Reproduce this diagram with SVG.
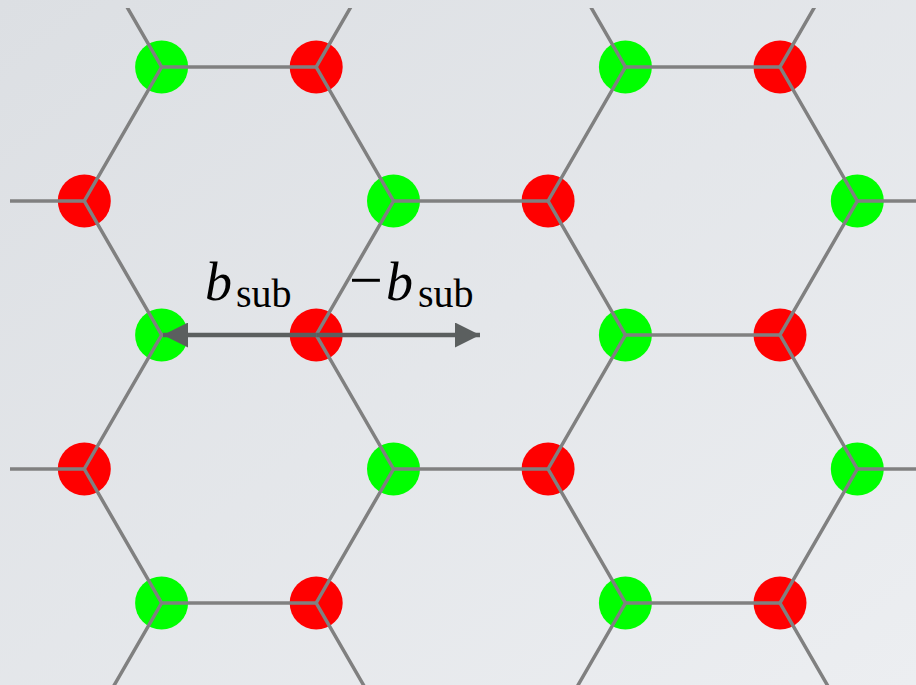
<svg xmlns="http://www.w3.org/2000/svg" width="916" height="685" viewBox="0 0 916 685">
<defs>
<linearGradient id="bg" x1="0" y1="0" x2="1" y2="1">
<stop offset="0" stop-color="#dcdfe3"/>
<stop offset="1" stop-color="#eceef1"/>
</linearGradient>
<clipPath id="clip"><rect x="10" y="8" width="906" height="677"/></clipPath>
<marker id="ah" viewBox="0 0 25 25" refX="25" refY="12.5" markerWidth="25" markerHeight="25" markerUnits="userSpaceOnUse" orient="auto">
<path d="M0,0 L25,12.5 L0,25 Z" fill="#5b5f5f"/>
</marker>
</defs>
<style>
.g{fill:#00ff00}
.r{fill:#ff0000}
.bond{stroke:#808080;stroke-width:3.5;fill:none;stroke-linejoin:miter}
.arr{stroke:#5b5f5f;stroke-width:4.5;fill:none}
.t{font-family:"Liberation Serif","DejaVu Serif",serif;fill:#000}
.it{font-style:italic;font-size:54px}
.sb{font-size:40px}
</style>
<rect width="916" height="685" fill="url(#bg)"/>
<g id="sites">
<g id="g-0-0"><circle class="g" cx="161.6" cy="67" r="26.5"/></g>
<g id="r-0-0"><circle class="r" cx="316.2" cy="67" r="26.5"/></g>
<g id="g-0-1"><circle class="g" cx="625.4" cy="67" r="26.5"/></g>
<g id="r-0-1"><circle class="r" cx="780" cy="67" r="26.5"/></g>
<g id="r-1-0"><circle class="r" cx="84.3" cy="201" r="26.5"/></g>
<g id="g-1-0"><circle class="g" cx="393.5" cy="201" r="26.5"/></g>
<g id="r-1-1"><circle class="r" cx="548.1" cy="201" r="26.5"/></g>
<g id="g-1-1"><circle class="g" cx="857.3" cy="201" r="26.5"/></g>
<g id="g-2-0"><circle class="g" cx="161.6" cy="335" r="26.5"/></g>
<g id="r-2-0"><circle class="r" cx="316.2" cy="335" r="26.5"/></g>
<g id="g-2-1"><circle class="g" cx="625.4" cy="335" r="26.5"/></g>
<g id="r-2-1"><circle class="r" cx="780" cy="335" r="26.5"/></g>
<g id="r-3-0"><circle class="r" cx="84.3" cy="469" r="26.5"/></g>
<g id="g-3-0"><circle class="g" cx="393.5" cy="469" r="26.5"/></g>
<g id="r-3-1"><circle class="r" cx="548.1" cy="469" r="26.5"/></g>
<g id="g-3-1"><circle class="g" cx="857.3" cy="469" r="26.5"/></g>
<g id="g-4-0"><circle class="g" cx="161.6" cy="603" r="26.5"/></g>
<g id="r-4-0"><circle class="r" cx="316.2" cy="603" r="26.5"/></g>
<g id="g-4-1"><circle class="g" cx="625.4" cy="603" r="26.5"/></g>
<g id="r-4-1"><circle class="r" cx="780" cy="603" r="26.5"/></g>
</g>
<g id="connectors" clip-path="url(#clip)">
<polyline class="bond" points="84.3,-67 161.6,67 84.3,201 161.6,335 84.3,469 161.6,603 84.3,737"/>
<polyline class="bond" points="393.5,-67 316.2,67 393.5,201 316.2,335 393.5,469 316.2,603 393.5,737"/>
<polyline class="bond" points="548.1,-67 625.4,67 548.1,201 625.4,335 548.1,469 625.4,603 548.1,737"/>
<polyline class="bond" points="857.3,-67 780,67 857.3,201 780,335 857.3,469 780,603 857.3,737"/>
<line class="bond" x1="161.6" y1="67" x2="316.2" y2="67"/>
<line class="bond" x1="625.4" y1="67" x2="780" y2="67"/>
<line class="bond" x1="161.6" y1="335" x2="316.2" y2="335"/>
<line class="bond" x1="625.4" y1="335" x2="780" y2="335"/>
<line class="bond" x1="161.6" y1="603" x2="316.2" y2="603"/>
<line class="bond" x1="625.4" y1="603" x2="780" y2="603"/>
<line class="bond" x1="393.5" y1="201" x2="548.1" y2="201"/>
<line class="bond" x1="393.5" y1="469" x2="548.1" y2="469"/>
<line class="bond" x1="0" y1="201" x2="84.3" y2="201"/>
<line class="bond" x1="0" y1="469" x2="84.3" y2="469"/>
<line class="bond" x1="857.3" y1="201" x2="916" y2="201"/>
<line class="bond" x1="857.3" y1="469" x2="916" y2="469"/>
</g>
<g id="vectors">
<line class="arr" x1="316.2" y1="335" x2="163" y2="335" marker-end="url(#ah)"/>
<line class="arr" x1="316.2" y1="335" x2="480" y2="335" marker-end="url(#ah)"/>
</g>
<g id="labels">
<text class="t" x="205" y="300"><tspan class="it">b</tspan><tspan class="sb" x="236" y="307">sub</tspan></text>
<text class="t" x="349" y="300"><tspan style="font-size:60px">−</tspan><tspan class="it" x="386" y="300">b</tspan><tspan class="sb" x="418" y="307">sub</tspan></text>
</g>
</svg>
